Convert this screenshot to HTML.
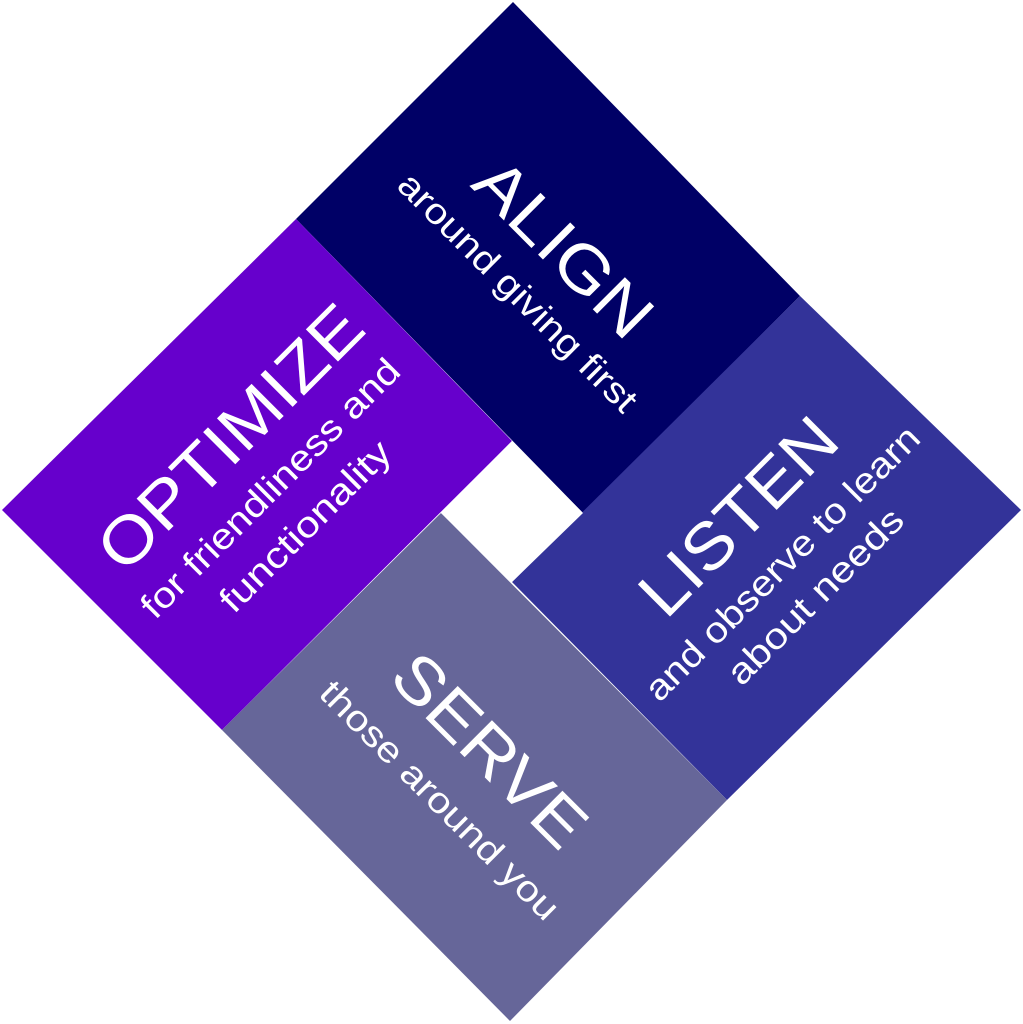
<!DOCTYPE html>
<html><head><meta charset="utf-8"><style>
html,body{margin:0;padding:0;background:#fff;}
svg{display:block;}
text{font-family:"Liberation Sans",Arial,sans-serif;fill:#fff;text-anchor:middle;dominant-baseline:central;}
</style></head><body>
<svg width="1023" height="1024" viewBox="0 0 1023 1024" xmlns="http://www.w3.org/2000/svg">
<polygon points="513,2 800,296 583,513 296,219" fill="#000066"/>
<polygon points="296,219 512,441 222,730 2,510" fill="#6600cc"/>
<polygon points="800,296 1021,510 727,800 512,582" fill="#333399"/>
<polygon points="441,513 727,800 510,1021 222,730" fill="#666699"/>
<polygon points="512,441 583,513 512,582 441,513" fill="#fff"/>

<text transform="translate(564,248) rotate(45)" font-size="66" textLength="222" lengthAdjust="spacingAndGlyphs">ALIGN</text>
<text transform="translate(518,292) rotate(45)" font-size="36" textLength="322" lengthAdjust="spacingAndGlyphs">around giving first</text>

<text transform="translate(230,437) rotate(-45)" font-size="66" textLength="345" lengthAdjust="spacingAndGlyphs">OPTIMIZE</text>
<text transform="translate(270,488) rotate(-45)" font-size="36" textLength="350" lengthAdjust="spacingAndGlyphs">for friendliness and</text>
<text transform="translate(305,526) rotate(-45)" font-size="36" textLength="226" lengthAdjust="spacingAndGlyphs">functionality</text>

<text transform="translate(738,516) rotate(-45)" font-size="66" textLength="250" lengthAdjust="spacingAndGlyphs">LISTEN</text>
<text transform="translate(782,563) rotate(-45)" font-size="36" textLength="372" lengthAdjust="spacingAndGlyphs">and observe to learn</text>
<text transform="translate(815,596) rotate(-45)" font-size="36" textLength="233" lengthAdjust="spacingAndGlyphs">about needs</text>

<text transform="translate(490,750) rotate(45)" font-size="66" textLength="245" lengthAdjust="spacingAndGlyphs">SERVE</text>
<text transform="translate(440,800) rotate(45)" font-size="36" textLength="322" lengthAdjust="spacingAndGlyphs">those around you</text>
</svg>
</body></html>
